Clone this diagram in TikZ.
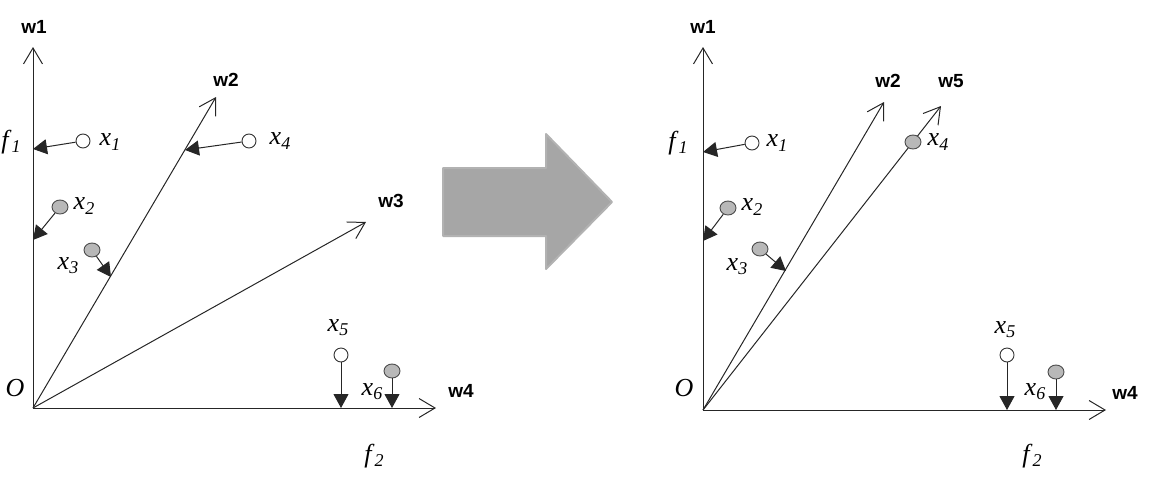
\documentclass[tikz,border=0pt]{standalone}
\usepackage{fontspec}
\setmainfont{Liberation Serif}
\newfontfamily\wfont{Liberation Sans}
\usetikzlibrary{arrows.meta,shapes.geometric}
\newcommand\xlab[2]{\textit{#1}\raisebox{-0.35ex}{\fontsize{18}{18}\selectfont\textit{#2}}}
\tikzset{
  x=1pt,y=-1pt,
  axis/.style={draw=black!85,line width=1pt,-{Straight Barb[length=16pt,width=19pt,line width=1pt]}},
  proj/.style={draw=black!85,line width=1pt,-{Triangle[length=14pt,width=15pt]}},
  opendot/.style={circle,draw=black!80,fill=white,line width=0.9pt,minimum size=14pt,inner sep=0pt},
  greydot/.style={ellipse,draw=black!70,fill=black!28,line width=0.9pt,minimum width=16pt,minimum height=14pt,inner sep=0pt},
  wlab/.style={font=\wfont\bfseries\fontsize{19}{19}\selectfont,inner sep=0pt},
  ilab/.style={font=\fontsize{26}{26}\selectfont,inner sep=0pt},
  bigarrow/.style={fill=black!35,draw=black!30,line width=2pt,line join=round},
}
\begin{document}
\begin{tikzpicture}
\useasboundingbox (0,0) rectangle (1150,482);

% ---------------- left panel ----------------
\coordinate (LO) at (33,408);
\coordinate (Lw1) at (33,47);
\coordinate (Lw2) at (216,97);
\coordinate (Lw3) at (366,222);
\coordinate (Lw4) at (436,408);
\draw[axis] (LO) -- (Lw1);
\draw[axis] (LO) -- (Lw2);
\draw[axis] (LO) -- (Lw3);
\draw[axis] (LO) -- (Lw4);

\node[wlab] (Lw1l) at (34,27) {w1};
\node[wlab] (Lw2l) at (226,80) {w2};
\node[wlab] (Lw3l) at (391,201) {w3};
\node[wlab] (Lw4l) at (461,391) {w4};

\node[opendot] (Lx1) at (83,141) {};
\node[greydot] (Lx2) at (60,207) {};
\node[greydot] (Lx3) at (92,250) {};
\node[opendot] (Lx4) at (249,141) {};
\node[opendot] (Lx5) at (341,355) {};
\node[greydot] (Lx6) at (392,371) {};

\coordinate (Lp1) at (33,149);
\coordinate (Lp2) at (33,240);
\coordinate (Lp3) at (111,277);
\coordinate (Lp4) at (185,150);
\coordinate (Lp5) at (341,408);
\coordinate (Lp6) at (392,408);
\draw[proj] (Lx1) -- (Lp1);
\draw[proj] (Lx2) -- (Lp2);
\draw[proj] (Lx3) -- (Lp3);
\draw[proj] (Lx4) -- (Lp4);
\draw[proj] (Lx5) -- (Lp5);
\draw[proj] (Lx6) -- (Lp6);

\node[ilab] (Lf1) at (11,142) {\xlab{f}{1}};
\node[ilab] (Lx1l) at (110,142) {\xlab{x}{1}};
\node[ilab] (Lx2l) at (84,206) {\xlab{x}{2}};
\node[ilab] (Lx3l) at (68,266) {\xlab{x}{3}};
\node[ilab] (Lx4l) at (280,141) {\xlab{x}{4}};
\node[ilab] (Lx5l) at (338,328) {\xlab{x}{5}};
\node[ilab] (Lx6l) at (372,392) {\xlab{x}{6}};
\node[ilab] (Lf2) at (374,456) {\xlab{f}{2}};
\node[ilab] (LOl) at (15,388) {\textit{O}};

% ---------------- big arrow ----------------
\path[bigarrow] (443,168) -- (546,168) -- (546,134) -- (612,202) -- (546,269) -- (546,236) -- (443,236) -- cycle;

% ---------------- right panel ----------------
\coordinate (RO) at (703,410);
\coordinate (Rw1) at (703,47);
\coordinate (Rw2) at (884,102);
\coordinate (Rw5) at (941,106);
\coordinate (Rw4) at (1106,410);
\draw[axis] (RO) -- (Rw1);
\draw[axis] (RO) -- (Rw2);
\draw[axis] (RO) -- (Rw5);
\draw[axis] (RO) -- (Rw4);

\node[wlab] (Rw1l) at (703,27) {w1};
\node[wlab] (Rw2l) at (888,81) {w2};
\node[wlab] (Rw5l) at (951,81) {w5};
\node[wlab] (Rw4l) at (1125,393) {w4};

\node[opendot] (Rx1) at (752,143) {};
\node[greydot] (Rx2) at (728,208) {};
\node[greydot] (Rx3) at (760,249) {};
\node[greydot] (Rx4) at (913,142) {};
\node[opendot] (Rx5) at (1007,355) {};
\node[greydot] (Rx6) at (1056,372) {};

\coordinate (Rp1) at (703,152);
\coordinate (Rp2) at (703,241);
\coordinate (Rp3) at (786,271);
\coordinate (Rp5) at (1007,410);
\coordinate (Rp6) at (1056,410);
\draw[proj] (Rx1) -- (Rp1);
\draw[proj] (Rx2) -- (Rp2);
\draw[proj] (Rx3) -- (Rp3);
\draw[proj] (Rx5) -- (Rp5);
\draw[proj] (Rx6) -- (Rp6);

\node[ilab] (Rf1) at (678,143) {\xlab{f}{1}};
\node[ilab] (Rx1l) at (777,143) {\xlab{x}{1}};
\node[ilab] (Rx2l) at (752,207) {\xlab{x}{2}};
\node[ilab] (Rx3l) at (737,267) {\xlab{x}{3}};
\node[ilab] (Rx4l) at (938,142) {\xlab{x}{4}};
\node[ilab] (Rx5l) at (1005,330) {\xlab{x}{5}};
\node[ilab] (Rx6l) at (1035,392) {\xlab{x}{6}};
\node[ilab] (Rf2) at (1032,456) {\xlab{f}{2}};
\node[ilab] (ROl) at (684,388) {\textit{O}};
\end{tikzpicture}
\end{document}
